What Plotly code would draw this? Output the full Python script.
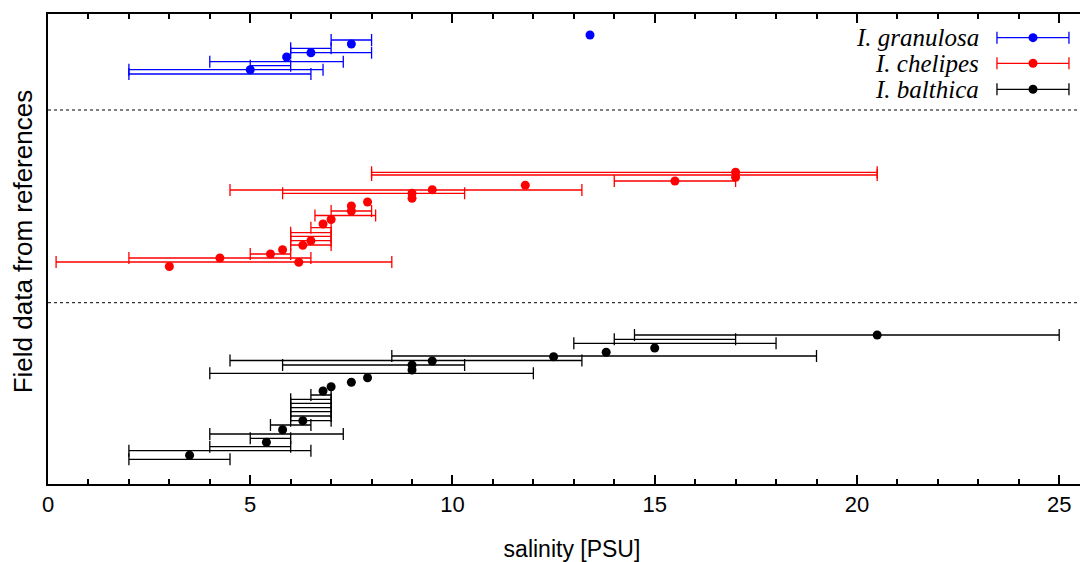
import plotly.graph_objects as go

# ---------------- data ----------------
# I. granulosa (blue)
gran_x = [13.4, 7.5, 6.5, 5.9, 5.0]
gran_y = [449, 440, 431.3, 427, 414.3]
gran_lo = [7.0, 6.0, 6.0, 4.0, 5.0, 2.0, 2.0]
gran_hi = [8.0, 7.0, 8.0, 7.3, 6.0, 6.8, 6.5]
gran_by = [444, 435.7, 431.3, 422.3, 418.3, 414.3, 410]

# I. chelipes (red)
chel_x = [17.0, 17.0, 15.5, 11.8, 9.5, 9.0, 9.0, 7.9, 7.5, 7.5, 7.0, 6.8,
          6.5, 6.3, 5.8, 5.5, 4.25, 6.2, 3.0]
chel_y = [311.7, 306.7, 303, 298.7, 294.3, 290.7, 285.7, 282, 278, 273, 264.5, 260,
          243.3, 238.7, 234.3, 230, 226, 221.7, 217.5]
chel_lo = [8.0, 8.0, 14.0, 4.5, 5.8, 7.0, 6.6, 6.5, 6.0, 6.0, 6.0, 6.0, 5.0, 2.0, 0.2]
chel_hi = [20.5, 20.5, 17.0, 13.2, 10.3, 8.0, 8.1, 7.0, 7.0, 7.0, 7.0, 7.0, 6.0, 6.5, 8.5]
chel_by = [311.7, 309, 303, 294, 290.7, 273, 268.5, 256.3, 251.3, 247.7, 243.3, 239,
           230, 226, 222]

# I. balthica (black)
balt_x = [20.5, 15.0, 13.8, 12.5, 9.5, 9.0, 9.0, 7.9, 7.5, 7.0, 6.8, 6.3, 5.8, 5.4, 3.5]
balt_y = [149, 136, 131.7, 127.3, 123, 119, 114, 106.3, 101.7, 97.3, 93, 63.3, 54.3,
          41.7, 28.7]
balt_lo = [14.5, 14.0, 13.0, 8.5, 4.5, 5.8, 4.0, 6.5, 6.0, 6.0, 6.0, 6.0, 6.0, 6.0,
           5.5, 4.0, 5.0, 4.0, 2.0, 2.0]
balt_hi = [25.0, 17.0, 18.0, 19.0, 13.2, 10.3, 12.0, 7.0, 7.0, 7.0, 7.0, 7.0, 7.0, 7.0,
           6.5, 7.3, 6.0, 6.0, 6.5, 4.5]
balt_by = [149, 144.7, 140.7, 128, 123.5, 119, 110.7, 89, 84.7, 80.7, 76.3, 72.3, 68,
           63.3, 59, 50, 45.7, 37.3, 33.3, 24.7]

separators = [374, 181.3]
species = ["I. granulosa", "I. chelipes", "I. balthica"]
colors = ["#0000ff", "#ff0000", "#000000"]
xticks = [0, 5, 10, 15, 20, 25]

# ---------------- figure ----------------
fig = go.Figure()


def bar_trace(lo, hi, y, color):
    mid = [(a + b) / 2 for a, b in zip(lo, hi)]
    half = [(b - a) / 2 for a, b in zip(lo, hi)]
    return go.Scatter(
        x=mid, y=y, mode="markers",
        marker=dict(size=1, color="rgba(0,0,0,0)"),
        error_x=dict(type="data", array=half, symmetric=True, color=color,
                     thickness=1.3, width=6),
        hoverinfo="skip", showlegend=False)


def point_trace(x, y, color, name):
    return go.Scatter(x=x, y=y, mode="markers", name=name,
                      marker=dict(size=9, color=color), showlegend=False)


sets = [(gran_x, gran_y, gran_lo, gran_hi, gran_by),
        (chel_x, chel_y, chel_lo, chel_hi, chel_by),
        (balt_x, balt_y, balt_lo, balt_hi, balt_by)]
for (px, py, lo, hi, by), c, n in zip(sets, colors, species):
    fig.add_trace(bar_trace(lo, hi, by, c))
    fig.add_trace(point_trace(px, py, c, n))

shapes = []
for s in separators:
    shapes.append(dict(type="line", xref="paper", x0=0, x1=1, yref="y", y0=s, y1=s,
                       line=dict(color="black", width=1, dash="3px,3px")))

# manual legend (text right, sample on the right like the original)
annotations = []
leg_y = [0.9496, 0.8951, 0.8398]
x_text = 0.8903
x0s, x1s, xm = 0.9055, 0.9742, 0.9399
for name, c, ly in zip(species, colors, leg_y):
    annotations.append(dict(text="<i>" + name + "</i>", xref="paper", yref="paper",
                            x=x_text, y=ly, xanchor="right", yanchor="middle",
                            showarrow=False,
                            font=dict(family="Liberation Serif", size=25, color="black")))
    shapes.append(dict(type="line", xref="paper", yref="paper", x0=x0s, x1=x1s,
                       y0=ly, y1=ly, line=dict(color=c, width=1.3)))
    for xc in (x0s, x1s):
        shapes.append(dict(type="line", xref="paper", yref="paper",
                           xsizemode="pixel", ysizemode="pixel",
                           xanchor=xc, yanchor=ly, x0=0, x1=0, y0=-6, y1=6,
                           line=dict(color=c, width=1.3)))
    shapes.append(dict(type="circle", xref="paper", yref="paper",
                       xsizemode="pixel", ysizemode="pixel",
                       xanchor=xm, yanchor=ly, x0=-4.5, x1=4.5, y0=-4.5, y1=4.5,
                       fillcolor=c, line=dict(color=c, width=0)))

annotations.append(dict(text="Field data from references", xref="paper", yref="paper",
                        x=-0.0235, y=0.515, textangle=-90, showarrow=False,
                        xanchor="center", yanchor="middle",
                        font=dict(family="Liberation Sans", size=26, color="black")))

fig.update_layout(
    width=1088, height=562,
    margin=dict(l=40, r=0, t=6, b=86),
    plot_bgcolor="white", paper_bgcolor="white",
    shapes=shapes, annotations=annotations,
    showlegend=False,
    xaxis=dict(range=[0, 25.91], showline=True, linewidth=2, linecolor="black",
               mirror="ticks", ticks="inside", ticklen=9, tickwidth=2,
               tickcolor="black", tickvals=xticks, showgrid=False, zeroline=False,
               automargin=False,
               tickfont=dict(family="Liberation Sans", size=22, color="black"),
               ticklabelstandoff=0,
               minor=dict(dtick=1, ticks="inside", ticklen=5, tickwidth=1.5,
                          tickcolor="black", showgrid=False),
               title=dict(text="salinity [PSU]", standoff=24,
                          font=dict(family="Liberation Sans", size=23, color="black"))),
    yaxis=dict(range=[0, 470], showline=True, linewidth=2, linecolor="black",
               mirror=True, ticks="", showticklabels=False, showgrid=False,
               zeroline=False, automargin=False),
)

fig.write_html("out.html")
